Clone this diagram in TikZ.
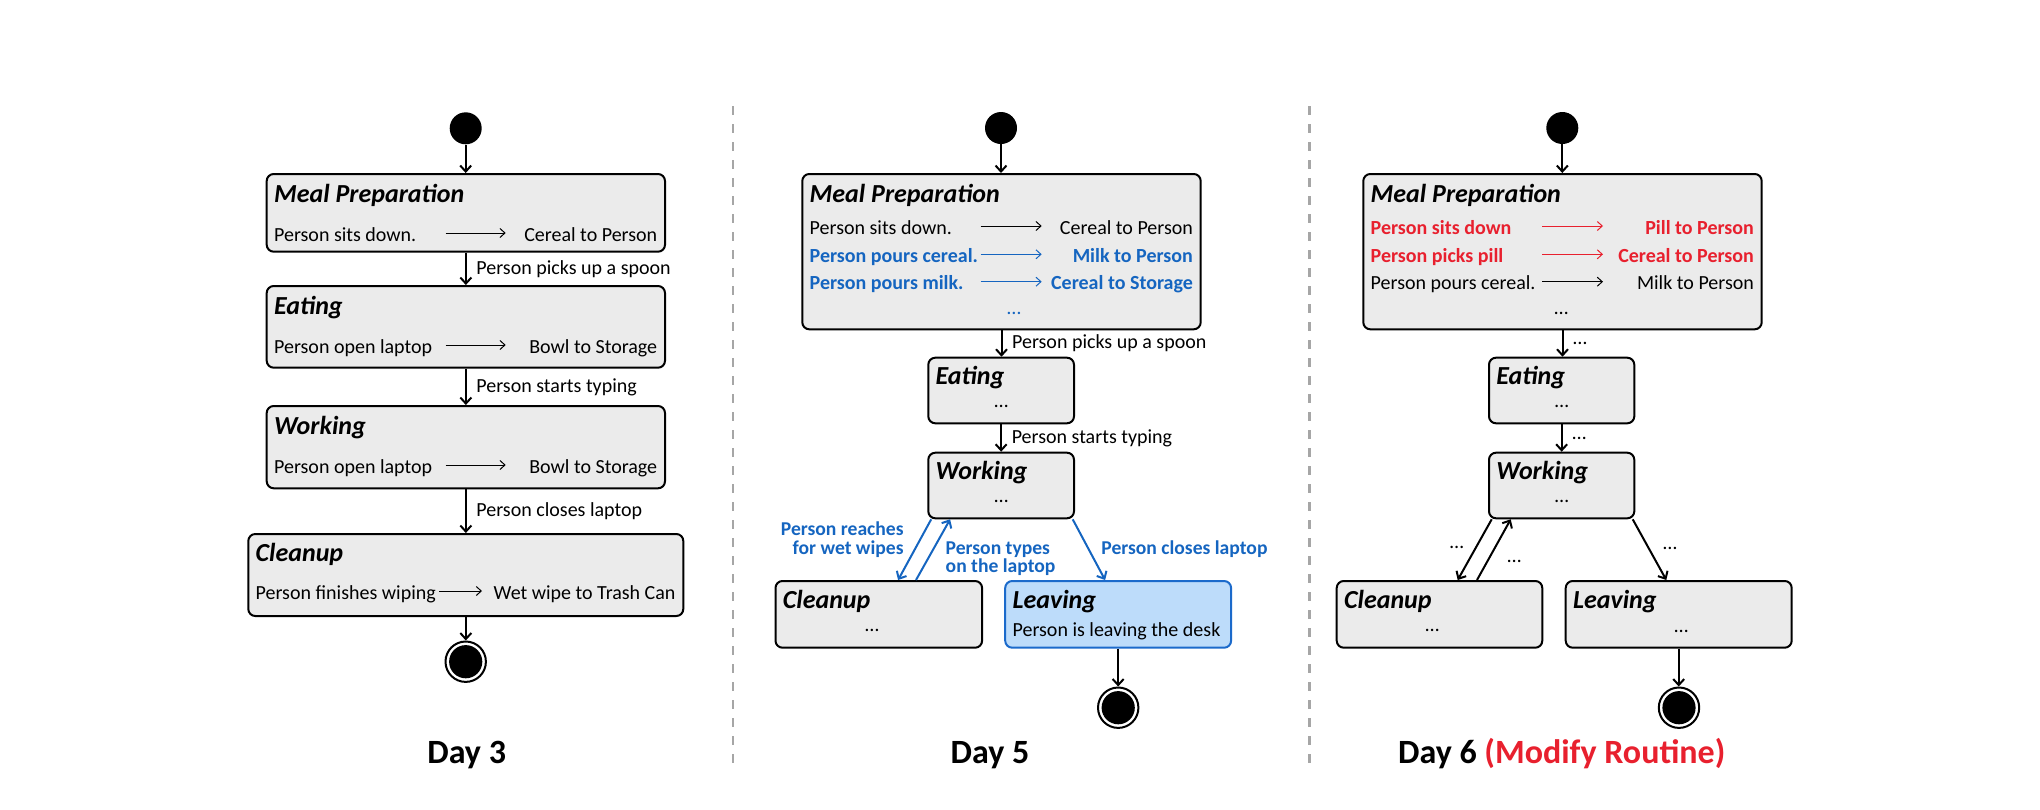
\documentclass[tikz,border=0pt]{standalone}
\usepackage{fontspec}
\setmainfont{Carlito}
\usetikzlibrary{arrows.meta,calc,fit}

\definecolor{boxgray}{HTML}{EBEBEB}
\definecolor{chblue}{HTML}{1565C0}
\definecolor{chred}{HTML}{E8202E}
\definecolor{leavefill}{HTML}{BDDCFA}
\definecolor{leaveline}{HTML}{1B6ACB}
\definecolor{sepgray}{HTML}{A6A6A6}

% one event row inside a state box: left event, arrow, right event
\newcommand\evrow[8][]{%
    \node[rowtxt,#1,anchor=base west] (#2l#3) at ($(#2.north west)+(8,#4)$) {#7};
    \node[rowtxt,#1,anchor=base east] (#2r#3) at ($(#2.north east)+(-8.4,#4)$) {#8};
    \draw[rowarr,#1] ($(#2.north west)+(#5,#4-8)$) -- ($(#2.north west)+(#6,#4-8)$);
}

\begin{document}
        \begin{tikzpicture}[x=0.5pt,y=-0.5pt]
            \tikzset{
                stbox/.style={draw, line width=1pt, rounded corners=3.5pt, fill=boxgray, inner sep=0pt},
                leavebox/.style={stbox, fill=leavefill, draw=leaveline},
                sttitle/.style={anchor=base west, inner sep=0pt, font=\bfseries\itshape\fontsize{13}{15}\selectfont},
                rowtxt/.style={inner sep=0pt, font=\fontsize{10}{12}\selectfont},
                addev/.style={color=chblue, font=\bfseries\fontsize{10}{12}\selectfont},
                modev/.style={color=chred, font=\bfseries\fontsize{10}{12}\selectfont},
                rowarr/.style={line width=0.5pt, -{Straight Barb[length=2.5pt,width=4.5pt]}},
                conn/.style={line width=1pt, -{Straight Barb[length=3pt,width=5.5pt]}},
                lbl/.style={anchor=west, inner sep=0pt, xshift=4.8pt, font=\fontsize{10}{12}\selectfont},
                blbl/.style={inner sep=0pt, text=chblue, font=\bfseries\fontsize{9.8}{9.2}\selectfont},
                dotlbl/.style={inner sep=0pt, font=\fontsize{10}{12}\selectfont},
                startst/.style={circle, fill=black, minimum size=16pt, inner sep=0pt},
                endst/.style={circle, draw, line width=1pt, fill=white, minimum size=20.2pt, inner sep=0pt,
                    path picture={\fill[black] (path picture bounding box.center) circle (8.3pt);}},
                daylbl/.style={anchor=base, inner sep=0pt, font=\bfseries\fontsize{17}{20}\selectfont},
                sepline/.style={sepgray, line width=1.3pt, dash pattern=on 4.5pt off 4.5pt},
            }
            \useasboundingbox (0,0) rectangle (2040,809);

            % separators
            \draw[sepline] (733,106) -- (733,766);
            \draw[sepline] (1309.7,106) -- (1309.7,766);

            % ---- Day 3
            \node[startst] (s3) at (465.7,128.3) {};
            \node[stbox, fit={(266.7,174) (665,251.7)}] (mp3) {};
            \node[sttitle] (mp3t) at ($(mp3.north west)+(8,29)$) {Meal Preparation};
            \evrow{mp3}{1}{68}{180}{240}{Person sits down.}{Cereal to Person}
            \node[stbox, fit={(266.7,286) (665,367.7)}] (eat3) {};
            \node[sttitle] (eat3t) at ($(eat3.north west)+(8,29)$) {Eating};
            \evrow{eat3}{1}{68}{180}{240}{Person open laptop}{Bowl to Storage}
            \node[stbox, fit={(266.7,406) (665,488.3)}] (work3) {};
            \node[sttitle] (work3t) at ($(work3.north west)+(8,29)$) {Working};
            \evrow{work3}{1}{68}{180}{240}{Person open laptop}{Bowl to Storage}
            \node[stbox, fit={(248.3,534) (683.3,616)}] (clean3) {};
            \node[sttitle] (clean3t) at ($(clean3.north west)+(8,28)$) {Cleanup};
            \evrow{clean3}{1}{66}{191.7}{234.7}{Person finishes wiping}{Wet wipe to Trash Can}
            \node[endst] (end3) at (465.7,661.7) {};

            \draw[conn] (s3.south) -- (s3 |- mp3.north);
            \draw[conn] (mp3.south) -- node[lbl] (c3a) {Person picks up a spoon} (mp3.south |- eat3.north);
            \draw[conn] (eat3.south) -- node[lbl] (c3b) {Person starts typing} (eat3.south |- work3.north);
            \draw[conn] (work3.south) -- node[lbl] (c3c) {Person closes laptop} (work3.south |- clean3.north);
            \draw[conn] (clean3.south) -- (clean3.south |- end3.north);
            \node[daylbl] (d3) at (466.7,763) {Day 3};

            % ---- Day 5
            \node[startst] (s5) at (1001,128) {};
            \node[stbox, fit={(802.3,174) (1200.7,329.3)}] (mp5) {};
            \node[sttitle] (mp5t) at ($(mp5.north west)+(8,29)$) {Meal Preparation};
            \evrow{mp5}{1}{61}{179.4}{240.4}{Person sits down.}{Cereal to Person}
            \evrow[addev]{mp5}{2}{89.3}{179.4}{240.4}{Person pours cereal.}{Milk to Person}
            \evrow[addev]{mp5}{3}{116.7}{179.4}{240.4}{Person pours milk.}{Cereal to Storage}
            \node[dotlbl, text=chblue, anchor=base] (mp5d) at ($(mp5.north west)+(212.7,141)$) {\ldots};
            \node[stbox, fit={(928.3,357.7) (1074,423.3)}] (eat5) {};
            \node[sttitle] (eat5t) at ($(eat5.north west)+(8,28)$) {Eating};
            \node[dotlbl, anchor=base] (eat5d) at ($(eat5.north)+(0,51)$) {\ldots};
            \node[stbox, fit={(928.3,452.7) (1074,518.3)}] (work5) {};
            \node[sttitle] (work5t) at ($(work5.north west)+(8,28)$) {Working};
            \node[dotlbl, anchor=base] (work5d) at ($(work5.north)+(0,51)$) {\ldots};
            \node[stbox, fit={(775.5,581) (982.1,647.7)}] (clean5) {};
            \node[sttitle] (clean5t) at ($(clean5.north west)+(8,28)$) {Cleanup};
            \node[dotlbl, anchor=base] (clean5d) at ($(clean5.north west)+(97.5,51)$) {\ldots};
            \node[leavebox, fit={(1005.2,581) (1231.1,647.7)}] (leave5) {};
            \node[sttitle] (leave5t) at ($(leave5.north west)+(8,28)$) {Leaving};
            \node[rowtxt, anchor=base west] (leave5r) at ($(leave5.north west)+(8,56)$) {Person is leaving the desk};
            \node[endst] (end5) at (1118.2,707.7) {};

            \draw[conn] (s5.south) -- (s5 |- mp5.north);
            \draw[conn] (mp5.south) -- node[lbl] (c5a) {Person picks up a spoon} (mp5.south |- eat5.north);
            \draw[conn] (eat5.south) -- node[lbl] (c5b) {Person starts typing} (eat5.south |- work5.north);
            \draw[conn, chblue] ($(work5.south west)+(3.9,0)$) -- ($(clean5.north east)+(-85,0)$);
            \draw[conn, chblue] ($(clean5.north east)+(-67.1,0)$) -- ($(work5.south west)+(22.8,0)$);
            \draw[conn, chblue] ($(work5.south east)+(-2.3,0)$) -- ($(leave5.north west)+(100.9,0)$);
            \draw[conn] (leave5.south) -- (leave5.south |- end5.north);
            \node[blbl, align=right, anchor=east] (c5c) at (904,539.5) {Person reaches\\for wet wipes};
            \node[blbl, align=left, anchor=west] (c5d) at (945.3,558.5) {Person types\\on the laptop};
            \node[blbl, anchor=west] (c5e) at (1101,549.3) {Person closes laptop};
            \node[daylbl] (d5) at (990,763) {Day 5};

            % ---- Day 6
            \node[startst] (s6) at (1562.3,128) {};
            \node[stbox, fit={(1363.3,174) (1761.7,329.3)}] (mp6) {};
            \node[sttitle] (mp6t) at ($(mp6.north west)+(8,29)$) {Meal Preparation};
            \evrow[modev]{mp6}{1}{61}{180}{240.7}{Person sits down}{Pill to Person}
            \evrow[modev]{mp6}{2}{89.3}{180}{240.7}{Person picks pill}{Cereal to Person}
            \evrow{mp6}{3}{116.7}{180}{240.7}{Person pours cereal.}{Milk to Person}
            \node[dotlbl, anchor=base] (mp6d) at ($(mp6.north west)+(199,141)$) {\ldots};
            \node[stbox, fit={(1489,357.7) (1634.3,423.3)}] (eat6) {};
            \node[sttitle] (eat6t) at ($(eat6.north west)+(8,28)$) {Eating};
            \node[dotlbl, anchor=base] (eat6d) at ($(eat6.north)+(0,51)$) {\ldots};
            \node[stbox, fit={(1489,452.7) (1634.3,518.3)}] (work6) {};
            \node[sttitle] (work6t) at ($(work6.north west)+(8,28)$) {Working};
            \node[dotlbl, anchor=base] (work6d) at ($(work6.north)+(0,51)$) {\ldots};
            \node[stbox, fit={(1336.7,581) (1542.3,647.7)}] (clean6) {};
            \node[sttitle] (clean6t) at ($(clean6.north west)+(8,28)$) {Cleanup};
            \node[dotlbl, anchor=base] (clean6d) at ($(clean6.north west)+(96.6,51)$) {\ldots};
            \node[stbox, fit={(1565.7,581) (1791.7,647.7)}] (leave6) {};
            \node[sttitle] (leave6t) at ($(leave6.north west)+(8,28)$) {Leaving};
            \node[dotlbl, anchor=base] (leave6d) at ($(leave6.north west)+(116.6,52)$) {\ldots};
            \node[endst] (end6) at (1679,707.7) {};

            \draw[conn] (s6.south) -- (s6 |- mp6.north);
            \draw[conn] (mp6.south) -- node[lbl] (c6a) {\ldots} (mp6.south |- eat6.north);
            \draw[conn] (eat6.south) -- node[lbl] (c6b) {\ldots} (eat6.south |- work6.north);
            \draw[conn] ($(work6.south west)+(3.7,0)$) -- ($(clean6.north east)+(-85.6,0)$);
            \draw[conn] ($(clean6.north east)+(-66.3,0)$) -- ($(work6.south west)+(22.7,0)$);
            \draw[conn] ($(work6.south east)+(-2.6,0)$) -- ($(leave6.north west)+(101.6,0)$);
            \draw[conn] (leave6.south) -- (leave6.south |- end6.north);
            \node[dotlbl] (c6c) at (1456.7,547.3) {\ldots};
            \node[dotlbl] (c6d) at (1514.3,561.7) {\ldots};
            \node[dotlbl] (c6e) at (1670,548.3) {\ldots};
            \node[daylbl] (d6) at (1561.7,763) {Day 6 \textcolor{chred}{(Modify Routine)}};
        \end{tikzpicture}
\end{document}
